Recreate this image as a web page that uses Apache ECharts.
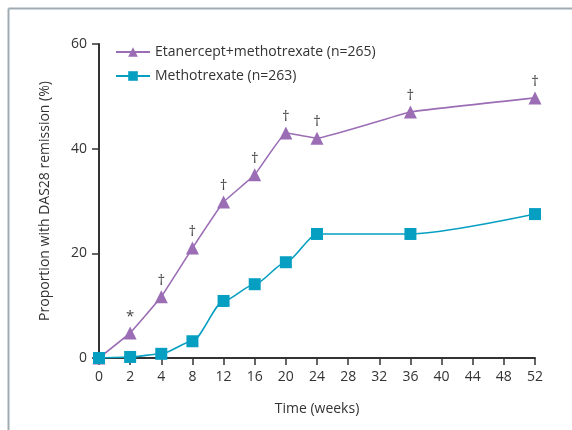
<!DOCTYPE html>
<html><head><meta charset="utf-8">
<script src="https://cdn.jsdelivr.net/npm/echarts@6/dist/echarts.min.js"></script>
<style>html,body{margin:0;padding:0;background:#fff}#c{width:572px;height:430px}</style>
</head><body><div id="c"></div>
<script>
var weeks = ['0','2','4','8','12','16','20','24','28','32','36','40','44','48','52'];
var etanercept = [0, 4.8, 11.7, 21, 29.8, 35, 43, 42, null, null, 47, null, null, null, 49.7];
var methotrexate = [0, 0.2, 0.8, 3.2, 10.9, 14.1, 18.3, 23.7, null, null, 23.7, null, null, null, 27.5];
var marks = ['', '*', '†', '†', '†', '†', '†', '†', '', '', '†', '', '', '', '†'];
var yTicks = [0, 20, 40, 60];
var seriesNames = ['Etanercept+methotrexate (n=265)', 'Methotrexate (n=263)'];

var purple = '#9b6db5', teal = '#069fc2', ink = '#333';
var font = 'Open Sans';
var chart = echarts.init(document.getElementById('c'));
chart.setOption({
  animation: false,
  textStyle: {fontFamily: font},
  graphic: [
    {type: 'line', shape: {x1: 8.5, y1: 8.5, x2: 572, y2: 8.5}, style: {stroke: '#9fabb3', lineWidth: 2}},
    {type: 'line', shape: {x1: 8.5, y1: 8.5, x2: 8.5, y2: 430}, style: {stroke: '#9fabb3', lineWidth: 2}}
  ],
  grid: {left: 99, right: 37, top: 44, bottom: 72, containLabel: false},
  legend: {
    left: 110, top: 40, orient: 'vertical', itemWidth: 34, itemHeight: 12, itemGap: 10,
    textStyle: {fontFamily: font, fontSize: 14, color: ink, padding: [0, 0, 0, 0]},
    data: seriesNames
  },
  xAxis: {
    type: 'category', data: weeks, boundaryGap: false,
    name: 'Time (weeks)', nameLocation: 'middle', nameGap: 44,
    nameTextStyle: {fontFamily: font, fontSize: 14, color: ink},
    axisLine: {lineStyle: {color: ink, width: 2}},
    axisTick: {alignWithLabel: true, length: 7, lineStyle: {color: ink, width: 1.5}, interval: 0},
    axisLabel: {interval: 0, fontFamily: font, fontSize: 14, color: ink, margin: 12},
    splitLine: {show: false}
  },
  yAxis: {
    type: 'value', min: 0, max: 60, interval: 20,
    name: 'Proportion with DAS28 remission (%)', nameLocation: 'middle', nameGap: 47,
    nameTextStyle: {fontFamily: font, fontSize: 14, color: ink},
    axisLine: {show: true, lineStyle: {color: ink, width: 2}},
    axisTick: {show: true, length: 7, lineStyle: {color: ink, width: 1.5}},
    axisLabel: {fontFamily: font, fontSize: 14, color: ink, margin: 12,
      formatter: function(v){ return yTicks.indexOf(v) >= 0 ? String(v) : ''; }},
    splitLine: {show: false}
  },
  series: [
    {
      name: seriesNames[0], type: 'line', data: etanercept, connectNulls: true, smooth: 0.08,
      symbol: 'triangle', symbolSize: 13, z: 3,
      lineStyle: {color: purple, width: 1.6}, itemStyle: {color: purple},
      label: {show: true, position: 'top', distance: 2, fontFamily: font, fontSize: 15, color: '#444',
        formatter: function(p){ return marks[p.dataIndex] || ''; }}
    },
    {
      name: seriesNames[1], type: 'line', data: methotrexate, connectNulls: true, smooth: 0.25,
      smoothMonotone: 'x',
      symbol: 'rect', symbolSize: 12, z: 4,
      lineStyle: {color: teal, width: 1.6}, itemStyle: {color: teal}
    }
  ]
});
</script></body></html>
